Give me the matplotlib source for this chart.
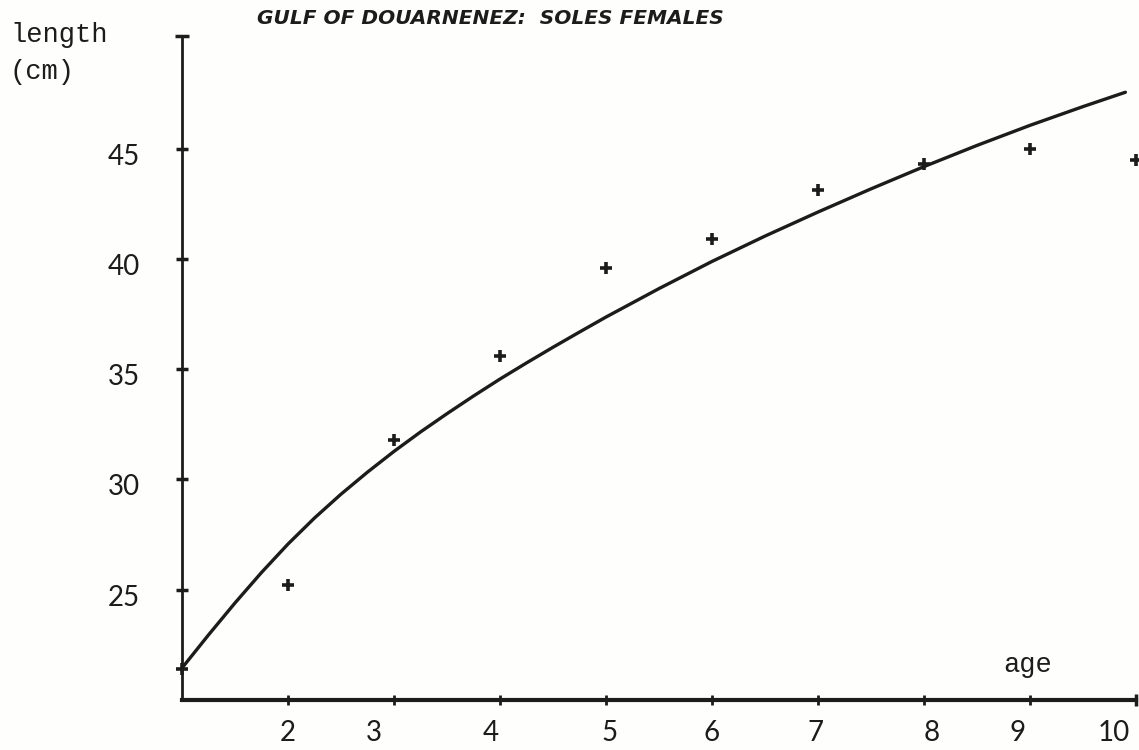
import matplotlib.pyplot as plt

ink = '#1c1c1c'
paper = '#fefefc'

# mean length at age (cm), observed
ages = [1, 2, 3, 4, 5, 6, 7, 8, 9, 10]
lengths = [21.4, 25.2, 31.8, 35.6, 39.6, 40.9, 43.1, 44.3, 45.0, 44.5]

# fitted growth curve, read along its length
curve_age = [1.0, 1.25, 1.5, 1.75, 2.0, 2.25, 2.5, 2.75, 3.0, 3.25, 3.5,
             3.75, 4.0, 4.25, 4.5, 4.75, 5.0, 5.5, 6.0, 6.5, 7.0, 7.5,
             8.0, 8.5, 9.0, 9.5, 9.9]
curve_len = [21.45, 22.95, 24.4, 25.78, 27.07, 28.25, 29.33, 30.33, 31.27,
             32.15, 32.98, 33.78, 34.55, 35.28, 35.99, 36.68, 37.36, 38.65,
             39.88, 41.03, 42.12, 43.17, 44.18, 45.14, 46.05, 46.9, 47.55]

xticks = [2, 3, 4, 5, 6, 7, 8, 9, 10]
xtick_labels = ['2', '3', '4', '5', '6', '7', '8', '9', '10']
yticks = [25, 30, 35, 40, 45]
ytick_labels = ['25', '30', '35', '40', '45']

# typewriter-style wobble of the x labels, in pixels
x_nudge = [0, -20, -9, 4, 0, -2, 8, -12, -22]

x0, x1 = 1, 10
y0, y1 = 20, 50.1

W, H = 1139, 750
fig = plt.figure(figsize=(W / 100, H / 100), dpi=100, facecolor=paper)
ax = fig.add_axes([182 / W, 50 / H, (1136 - 182) / W, 664 / H])
ax.set_facecolor(paper)
ax.set_xlim(x0, x1)
ax.set_ylim(y0, y1)

for s in ('top', 'right'):
    ax.spines[s].set_visible(False)
ax.spines['left'].set_linewidth(2)
ax.spines['bottom'].set_linewidth(3)
ax.spines['left'].set_color(ink)
ax.spines['bottom'].set_color(ink)

ax.set_xticks(xticks)
ax.set_yticks(yticks)
ax.tick_params(axis='x', direction='inout', length=7, width=2, color=ink,
               labelbottom=False)
ax.tick_params(axis='y', direction='inout', length=9, width=2.5, color=ink,
               labelleft=False)

# end caps on the axes
ax.plot([x0], [y1], marker='_', ms=10, mew=2.5, color=ink, clip_on=False)
ax.plot([x1], [y0], marker='|', ms=8, mew=2.5, color=ink, clip_on=False)

ax.plot(curve_age, curve_len, color=ink, lw=2.4,
        solid_capstyle='round', solid_joinstyle='round')
ax.plot(ages, lengths, '+', ms=9, mew=2.6, color=ink, clip_on=False)

num_font = dict(family=['Lato', 'DejaVu Sans'], size=20, color=ink)
for v, lab, dx in zip(xticks, xtick_labels, x_nudge):
    ax.annotate(lab, xy=(v, 0), xycoords=('data', 'axes fraction'),
                xytext=(dx * 0.72, -33 * 0.72), textcoords='offset points',
                ha='center', va='center', **num_font)
for v, lab in zip(yticks, ytick_labels):
    ax.annotate(lab, xy=(0, v), xycoords=('axes fraction', 'data'),
                xytext=(-58 * 0.72, -8 * 0.72), textcoords='offset points',
                ha='center', va='center', **num_font)

mono = dict(family=['Liberation Mono', 'DejaVu Sans Mono'], size=19.5, color=ink)
fig.text(10 / W, 1 - 42 / H, 'length', ha='left', va='baseline', **mono)
fig.text(10 / W, 1 - 79 / H, '(cm)', ha='left', va='baseline', **mono)
fig.text(1028 / W, 1 - 672 / H, 'age', ha='center', va='baseline', **mono)

fig.text(490 / W, 1 - 18 / H, 'GULF OF DOUARNENEZ:  SOLES FEMALES',
         ha='center', va='center', family='DejaVu Sans', weight='bold',
         style='italic', size=14.5, color=ink)

fig.savefig('out.png', dpi=100, facecolor=paper)
